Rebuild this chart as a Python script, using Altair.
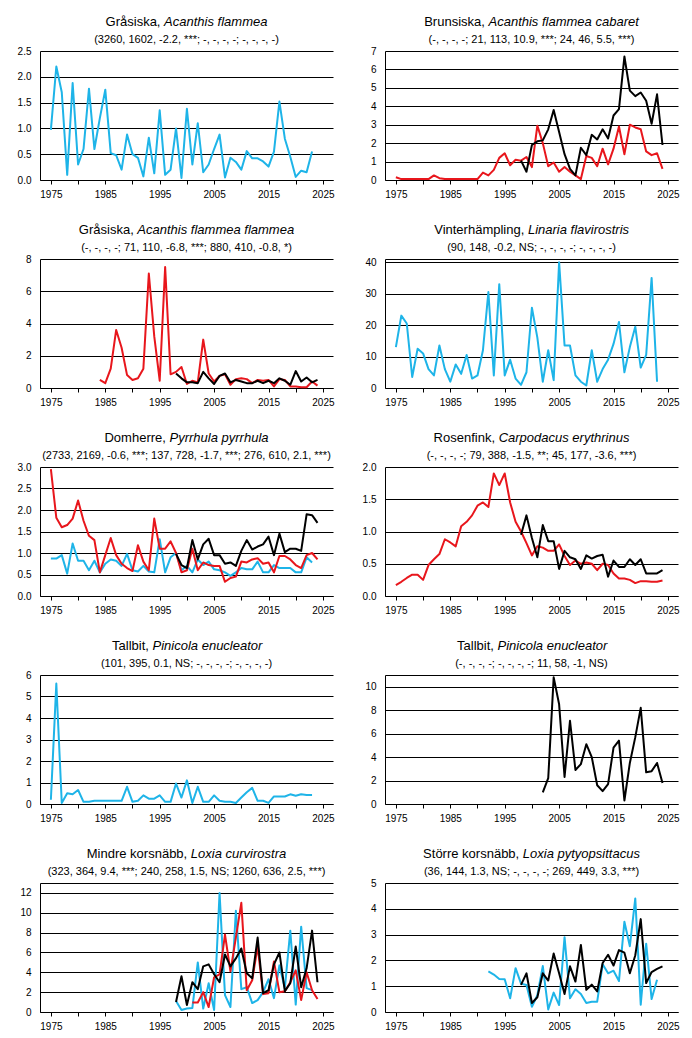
import altair as alt
import pandas as pd

BLUE = "#1EB4E8"
RED = "#E8161C"
BLACK = "#000000"
FONT = "Liberation Sans, Arial, sans-serif"

# ---- data ----
gra_blue = [0.97, 2.2, 1.7, 0.1, 1.88, 0.3, 0.6, 1.77, 0.6, 1.2,
            1.75, 0.52, 0.48, 0.2, 0.88, 0.5, 0.43, 0.07, 0.82, 0.13,
            1.35, 0.1, 0.2, 1.0, 0.04, 1.38, 0.3, 1.1, 0.15, 0.3,
            0.6, 0.88, 0.05, 0.43, 0.35, 0.2, 0.56, 0.42, 0.42, 0.36,
            0.26, 0.55, 1.52, 0.8, 0.45, 0.06, 0.18, 0.15, 0.55]

brun_red = [0.15, 0.05, 0.05, 0.05, 0.05, 0.05, 0.05, 0.25, 0.1, 0.05,
            0.05, 0.05, 0.05, 0.05, 0.05, 0.05, 0.4, 0.25, 0.55, 1.2,
            1.45, 0.8, 1.1, 1.05, 1.25, 0.7, 2.95, 2.0, 0.75, 0.95,
            0.45, 0.7, 0.45, 0.25, 0.05, 1.3, 1.2, 0.75, 1.7, 0.85,
            1.7, 2.9, 1.4, 3.0, 2.85, 2.75, 1.55, 1.35, 1.45, 0.6]
brun_black = [1.05, 0.45, 1.9, 2.1, 2.15, 2.75, 3.8, 2.6, 1.4, 0.6,
              0.25, 1.75, 1.35, 2.45, 2.2, 2.75, 2.25, 3.5, 3.85, 6.7,
              4.85, 4.55, 4.75, 4.3, 3.05, 4.65, 1.9]

flam_red = [0.5, 0.3, 1.2, 3.6, 2.5, 0.8, 0.5, 0.6, 1.2, 7.1,
            3.2, 0.45, 7.5, 0.85, 1.0, 1.3, 0.25, 0.45, 0.35, 3.0,
            0.9, 0.4, 0.75, 0.85, 0.2, 0.55, 0.6, 0.55, 0.3, 0.5,
            0.45, 0.5, 0.1, 0.55, 0.5, 0.1, 0.1, 0.05, 0.05, 0.4, 0.15]
flam_black = [0.9, 0.6, 0.35, 0.35, 0.3, 1.0, 0.6, 0.25, 0.75, 0.9,
              0.35, 0.5, 0.4, 0.3, 0.3, 0.45, 0.3, 0.45, 0.3, 0.6,
              0.45, 0.2, 1.05, 0.4, 0.65, 0.35, 0.5]

vint_blue = [13, 23, 20.5, 3.5, 12.5, 11, 6, 4, 13.5, 6,
             2, 7.5, 4.5, 10.5, 3, 4, 12, 30.5, 4, 33,
             4, 9, 3, 1, 5, 25.5, 16, 2, 12, 2.5,
             40, 13.5, 13.5, 4, 2, 0.8, 12, 2, 6, 9,
             14, 21, 5, 13, 19.5, 6.5, 10.5, 35, 2]

dom_blue = [0.87, 0.87, 0.95, 0.52, 1.22, 0.82, 0.82, 0.6, 0.82, 0.55,
            0.75, 0.85, 0.82, 0.7, 0.98, 0.6, 0.57, 0.7, 0.57, 0.55,
            1.32, 0.55, 0.9, 1.0, 0.6, 0.7, 0.55, 0.85, 0.72, 0.8,
            0.62, 0.6, 0.55, 0.47, 0.55, 0.65, 0.62, 0.62, 0.8, 0.55,
            0.55, 0.72, 0.65, 0.65, 0.65, 0.55, 0.55, 0.9, 0.78]
dom_red = [2.95, 1.82, 1.6, 1.65, 1.8, 2.22, 1.75, 1.4, 1.3, 0.55,
           0.95, 1.35, 0.95, 0.75, 0.65, 0.58, 1.18, 0.8, 0.6, 1.8,
           1.1, 1.1, 1.27, 1.0, 0.55, 0.6, 1.1, 0.6, 0.78, 0.72,
           0.7, 0.7, 0.33, 0.42, 0.45, 0.8, 0.78, 0.85, 0.88, 0.75,
           0.78, 0.55, 0.93, 0.93, 0.85, 0.72, 0.65, 0.95, 1.0, 0.85]
dom_black = [0.98, 0.72, 0.65, 1.3, 0.85, 1.2, 1.33, 0.95, 0.95, 0.75,
             0.78, 0.7, 1.05, 1.3, 1.08, 1.15, 1.2, 1.38, 0.95, 1.45,
             1.02, 1.1, 1.1, 1.05, 1.9, 1.88, 1.7]

ros_red = [0.17, 0.22, 0.28, 0.33, 0.33, 0.25, 0.48, 0.57, 0.65, 0.88,
           0.83, 0.77, 1.08, 1.15, 1.25, 1.4, 1.45, 1.38, 1.9, 1.72,
           1.9, 1.45, 1.15, 1.0, 0.82, 0.63, 0.77, 0.75, 0.7, 0.7,
           0.8, 0.62, 0.48, 0.55, 0.5, 0.52, 0.5, 0.4, 0.5, 0.48,
           0.35, 0.27, 0.27, 0.25, 0.2, 0.23, 0.23, 0.22, 0.22, 0.24]
ros_black = [0.95, 1.25, 0.9, 0.6, 1.1, 0.85, 0.85, 0.42, 0.7, 0.6,
             0.57, 0.42, 0.63, 0.58, 0.62, 0.64, 0.3, 0.55, 0.45, 0.45,
             0.57, 0.48, 0.57, 0.35, 0.35, 0.35, 0.4]

tall_blue = [0.2, 5.6, 0.05, 0.5, 0.45, 0.65, 0.1, 0.1, 0.15, 0.15,
             0.15, 0.15, 0.15, 0.15, 0.8, 0.1, 0.15, 0.4, 0.25, 0.25,
             0.4, 0.1, 0.1, 0.95, 0.3, 1.1, 0.05, 0.8, 0.1, 0.1,
             0.4, 0.15, 0.1, 0.1, 0.05, 0.3, 0.55, 0.75, 0.15, 0.15,
             0.05, 0.35, 0.35, 0.35, 0.45, 0.38, 0.45, 0.42, 0.42]

tall_black = [1.0, 2.2, 10.8, 8.5, 2.3, 7.1, 2.9, 3.4, 5.1, 4.0,
              1.6, 1.1, 1.7, 4.8, 5.4, 0.3, 3.5, 5.7, 8.2, 2.7,
              2.8, 3.5, 1.8]

mkors_blue = [1.1, 0.2, 0.35, 0.4, 5.0, 0.35, 2.9, 0.2, 12.0, 1.7,
              0.5, 10.2, 2.3, 2.5, 0.9, 1.2, 2.0, 3.3, 1.4, 4.7,
              2.4, 8.2, 0.75, 8.6, 2.4, 2.2]
mkors_red = [0.95, 0.95, 2.0, 0.5, 3.5, 3.8, 7.8, 4.1, 7.5, 11.0,
             2.2, 3.2, 6.6, 1.8, 1.9, 5.1, 2.0, 2.1, 3.0, 4.2,
             1.2, 4.0, 2.2, 1.3]
mkors_black = [1.0, 3.6, 0.7, 3.0, 2.3, 4.6, 4.8, 3.8, 3.0, 5.8,
               4.6, 5.4, 6.4, 3.9, 3.4, 7.5, 1.9, 2.2, 4.8, 6.0,
               2.1, 2.9, 6.6, 2.5, 4.4, 8.2, 3.0]

skors_blue = [1.57, 1.45, 1.28, 1.27, 0.53, 1.7, 1.1, 1.05, 0.2, 0.65,
              1.78, 0.1, 0.75, 0.27, 2.9, 0.53, 0.88, 0.7, 0.35, 0.4,
              0.4, 1.85, 1.5, 1.6, 1.2, 3.5, 2.55, 4.4, 0.28, 2.65,
              0.5, 1.25]
skors_black = [1.05, 1.5, 0.35, 0.57, 1.5, 1.22, 2.27, 1.5, 0.7, 1.77,
               1.18, 2.6, 0.86, 1.06, 0.8, 1.9, 2.22, 1.8, 2.4, 2.3,
               1.5, 2.2, 3.6, 1.12, 1.55, 1.67, 1.77]

X_TICKS = list(range(1975, 2030, 5))

# ---- layout helpers ----
W_PLOT = 293
H_PLOT = 129

CHAR_W = {" ": 278, ",": 278, ".": 278, "-": 333, "(": 333, ")": 333, ";": 278, "*": 389,
          "a": 556, "b": 556, "c": 500, "d": 556, "e": 556, "f": 278, "g": 556, "h": 556,
          "i": 222, "j": 222, "k": 500, "l": 222, "m": 833, "n": 556, "o": 556, "p": 556,
          "q": 556, "r": 333, "s": 500, "t": 278, "u": 556, "v": 500, "w": 722, "x": 500,
          "y": 500, "z": 500, "å": 556, "ä": 556, "ö": 556,
          "A": 667, "B": 667, "C": 722, "D": 722, "G": 778, "L": 556, "M": 833, "P": 667,
          "R": 722, "S": 667, "T": 611, "V": 667}


def text_width(s, size):
    return sum(CHAR_W.get(ch, 556) for ch in s) * size / 1000.0


def panel(name, latin, stats, series, ymax, yvals, fmt):
    rows = []
    for key, start, vals in series:
        for i, v in enumerate(vals):
            rows.append({"year": start + i, "value": v, "series": key})
    df = pd.DataFrame(rows)

    grid_vals = list(yvals)
    axis_kw = dict(values=grid_vals, format=fmt, title=None, grid=True,
                   minExtent=30)
    if ymax not in yvals:
        grid_vals.append(ymax)
        axis_kw["values"] = grid_vals
        axis_kw["labelExpr"] = f"datum.value == {ymax} ? '' : datum.label"

    lines = alt.Chart(df).mark_line(strokeWidth=2, strokeJoin="round").encode(
        x=alt.X("year:Q",
                scale=alt.Scale(domain=[1973, 2026.85], nice=False, zero=False),
                axis=alt.Axis(values=X_TICKS, format="d", title=None, grid=False,
                              labelExpr="datum.value % 10 == 5 ? datum.label : ''",
                              labelFlush=False, labelOverlap=False)),
        y=alt.Y("value:Q", scale=alt.Scale(domain=[0, ymax], nice=False),
                axis=alt.Axis(**axis_kw)),
        color=alt.Color("series:N",
                        scale=alt.Scale(domain=["blue", "red", "black"],
                                        range=[BLUE, RED, BLACK]),
                        legend=None),
    )

    one = pd.DataFrame({"k": [0]})
    w1 = text_width(name + ", ", 13)
    w2 = text_width(latin, 13)
    xs = W_PLOT / 2 - (w1 + w2) / 2 + w1
    sp = text_width(" ", 13)
    t1 = alt.Chart(one).mark_text(text=name + ",", align="right", baseline="middle",
                                  fontSize=13, font=FONT, color="black").encode(
        x=alt.value(xs - sp), y=alt.value(-29))
    t2 = alt.Chart(one).mark_text(text=latin, align="left", baseline="middle",
                                  fontSize=13, font=FONT, fontStyle="italic",
                                  color="black").encode(
        x=alt.value(xs), y=alt.value(-29))
    t3 = alt.Chart(one).mark_text(text=stats, align="center", baseline="middle",
                                  fontSize=11, font=FONT, color="black").encode(
        x=alt.value(W_PLOT / 2), y=alt.value(-11))
    return alt.layer(lines, t1, t2, t3).properties(width=W_PLOT, height=H_PLOT)


p1 = panel("Gråsiska", "Acanthis flammea",
           "(3260, 1602, -2.2, ***; -, -, -, -; -, -, -, -)",
           [("blue", 1975, gra_blue)], 2.5, [0, 0.5, 1.0, 1.5, 2.0, 2.5], ".1f")
p2 = panel("Brunsiska", "Acanthis flammea cabaret",
           "(-, -, -, -; 21, 113, 10.9, ***; 24, 46, 5.5, ***)",
           [("red", 1975, brun_red), ("black", 1998, brun_black)], 7,
           [0, 1, 2, 3, 4, 5, 6, 7], "d")
p3 = panel("Gråsiska", "Acanthis flammea flammea",
           "(-, -, -, -; 71, 110, -6.8, ***; 880, 410, -0.8, *)",
           [("red", 1984, flam_red), ("black", 1998, flam_black)], 8,
           [0, 2, 4, 6, 8], "d")
p4 = panel("Vinterhämpling", "Linaria flavirostris",
           "(90, 148, -0.2, NS; -, -, -, -; -, -, -, -)",
           [("blue", 1975, vint_blue)], 41, [0, 10, 20, 30, 40], "d")
p5 = panel("Domherre", "Pyrrhula pyrrhula",
           "(2733, 2169, -0.6, ***; 137, 728, -1.7, ***; 276, 610, 2.1, ***)",
           [("blue", 1975, dom_blue), ("red", 1975, dom_red), ("black", 1998, dom_black)],
           3, [0, 0.5, 1.0, 1.5, 2.0, 2.5, 3.0], ".1f")
p6 = panel("Rosenfink", "Carpodacus erythrinus",
           "(-, -, -, -; 79, 388, -1.5, **; 45, 177, -3.6, ***)",
           [("red", 1975, ros_red), ("black", 1998, ros_black)], 2,
           [0, 0.5, 1.0, 1.5, 2.0], ".1f")
p7 = panel("Tallbit", "Pinicola enucleator",
           "(101, 395, 0.1, NS; -, -, -, -; -, -, -, -)",
           [("blue", 1975, tall_blue)], 6, [0, 1, 2, 3, 4, 5, 6], "d")
p8 = panel("Tallbit", "Pinicola enucleator",
           "(-, -, -, -; -, -, -, -; 11, 58, -1, NS)",
           [("black", 2002, tall_black)], 11, [0, 2, 4, 6, 8, 10], "d")
p9 = panel("Mindre korsnäbb", "Loxia curvirostra",
           "(323, 364, 9.4, ***; 240, 258, 1.5, NS; 1260, 636, 2.5, ***)",
           [("blue", 1998, mkors_blue), ("red", 2001, mkors_red), ("black", 1998, mkors_black)],
           13, [0, 2, 4, 6, 8, 10, 12], "d")
p10 = panel("Större korsnäbb", "Loxia pytyopsittacus",
            "(36, 144, 1.3, NS; -, -, -, -; 269, 449, 3.3, ***)",
            [("blue", 1992, skors_blue), ("black", 1998, skors_black)], 5,
            [0, 1, 2, 3, 4, 5], "d")

rows = [alt.hconcat(a, b, spacing=19) for a, b in
        [(p1, p2), (p3, p4), (p5, p6), (p7, p8), (p9, p10)]]

chart = alt.vconcat(*rows, spacing=23).properties(
    padding={"left": 1, "top": 7, "right": 0, "bottom": 0}
).configure(font=FONT).configure_view(
    stroke="transparent"
).configure_axisX(
    domainColor="black", domainWidth=1, tickColor="black", tickSize=4, tickWidth=1,
    labelFontSize=10, labelColor="black", labelPadding=5, labelFont=FONT
).configure_axisY(
    domainColor="black", domainWidth=1, ticks=False, tickSize=0,
    labelFontSize=10, labelColor="black", labelPadding=9, labelFont=FONT,
    gridColor="black", gridOpacity=1, gridWidth=1
)

chart.save("out.html", embed_options={"renderer": "svg", "actions": False})
